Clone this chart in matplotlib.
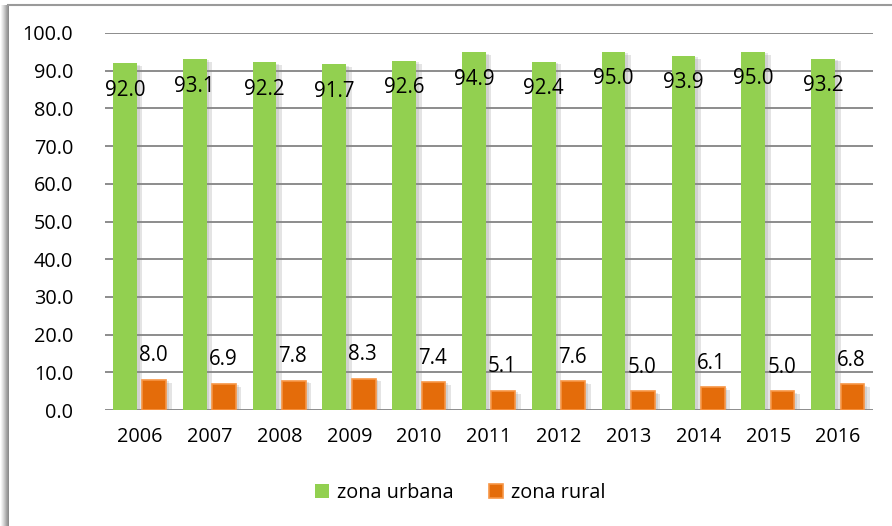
import matplotlib
matplotlib.use("Agg")
import matplotlib.pyplot as plt
import matplotlib.patheffects as pe
from matplotlib.patches import Rectangle, Patch
import numpy as np

years = ["2006", "2007", "2008", "2009", "2010", "2011", "2012", "2013", "2014", "2015", "2016"]
urbana = [92.0, 93.1, 92.2, 91.7, 92.6, 94.9, 92.4, 95.0, 93.9, 95.0, 93.2]
rural = [8.0, 6.9, 7.8, 8.3, 7.4, 5.1, 7.6, 5.0, 6.1, 5.0, 6.8]
yticks = [0, 10, 20, 30, 40, 50, 60, 70, 80, 90, 100]

plt.rcParams['font.family'] = ['Open Sans', 'DejaVu Sans']

W, H = 892, 526
fig = plt.figure(figsize=(W / 100, H / 100), dpi=100)
fig.patch.set_facecolor('white')

# frame: top line and left shadow
fig.add_artist(plt.Line2D([8 / W, 1], [1 - 5 / H, 1 - 5 / H], color='#9a9a9a', lw=1.5, transform=fig.transFigure))
for i, c in enumerate(['#f4f4f4', '#e6e6e6', '#d8d8d8', '#c8c8c8', '#b8b8b8', '#a6a6a6', '#999999', '#8c8c8c']):
    fig.add_artist(Rectangle(((1 + i) / W, 0), 1.3 / W, 1 - 5 / H, transform=fig.transFigure,
                             facecolor=c, edgecolor='none'))

ax = fig.add_axes([105 / W, 116 / H, (873 - 105) / W, (493 - 116) / H])
x = np.arange(len(years))
bw = 0.34
green, orange, orange_edge = '#92D050', '#E46C0A', '#F79646'
b1 = ax.bar(x - 0.215, urbana, bw, color=green, zorder=3)
b2 = ax.bar(x + 0.205, rural, bw, color=orange, edgecolor=orange_edge, linewidth=1.2, zorder=3)
for b in list(b1) + list(b2):
    b.set_path_effects([pe.SimplePatchShadow(offset=(4, -2), shadow_rgbFace='#888888', alpha=0.22),
                        pe.SimplePatchShadow(offset=(2, -1), shadow_rgbFace='#888888', alpha=0.2),
                        pe.Normal()])

ppd = (493 - 116) / 100.0  # pixels per data unit
for xi, v in zip(x, urbana):
    ax.text(xi - 0.215, v - 27 / ppd, f"{v:.1f}", ha='center', va='center', fontsize=14.8, color='black', zorder=5)
for xi, v in zip(x, rural):
    ax.text(xi + 0.19, v + 24 / ppd, f"{v:.1f}", ha='center', va='center', fontsize=14.8, color='black', zorder=5)

ax.set_xlim(-0.5, len(years) - 0.5)
ax.set_ylim(0, 100)
ax.set_yticks(yticks)
ax.set_yticklabels([f"{t:.1f}" for t in yticks], fontsize=14.3)
ax.set_xticks(x)
ax.set_xticklabels(years, fontsize=14.3)
ax.tick_params(axis='both', length=0, colors='black')
ax.tick_params(axis='y', pad=23)
ax.tick_params(axis='x', pad=12)
ax.grid(axis='y', color='#8c8c8c', linewidth=1.4, zorder=0)
for s in ax.spines.values():
    s.set_visible(False)
ax.set_axisbelow(True)

handles = [Patch(facecolor=green, edgecolor='none'),
           Patch(facecolor=orange, edgecolor=orange_edge, linewidth=1.2)]
fig.legend(handles=handles, labels=['zona urbana', 'zona rural'], loc='center',
           bbox_to_anchor=(460 / W, 1 - 493 / H), ncol=2, frameon=False, fontsize=14.3,
           handlelength=0.7, handleheight=0.7, handletextpad=0.4, columnspacing=1.8)

fig.savefig("out.png", dpi=100, facecolor='white')
